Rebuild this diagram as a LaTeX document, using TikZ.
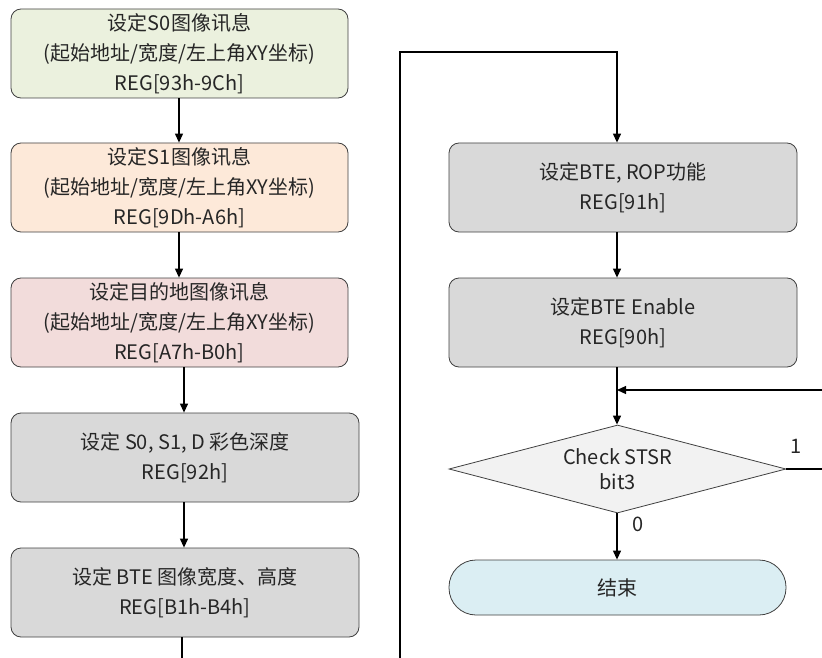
\documentclass[tikz,border=0pt]{standalone}
\usepackage{fontspec}
\setmainfont{Noto Sans CJK SC}
\usetikzlibrary{shapes.geometric,arrows.meta}
\definecolor{bordc}{HTML}{404040}
\definecolor{txtc}{HTML}{262626}
\definecolor{cgreen}{HTML}{EBF1DE}
\definecolor{corange}{HTML}{FDE9D9}
\definecolor{cpink}{HTML}{F2DCDB}
\definecolor{cgray}{HTML}{D9D9D9}
\definecolor{cdia}{HTML}{F2F2F2}
\definecolor{cend}{HTML}{DBEEF3}
\begin{document}
\begin{tikzpicture}[x=1pt,y=-1pt,
  font=\fontsize{20}{30}\selectfont,
  procbox/.style={draw=bordc, line width=0.8pt, rounded corners=10pt, minimum width=337pt, minimum height=89pt, align=center, text=txtc, inner sep=0pt},
  wprocbox/.style={procbox, minimum width=348pt},
  decbox/.style={draw=bordc, line width=0.8pt, diamond, fill=cdia, text=txtc, align=center, inner sep=0pt, minimum width=337pt, minimum height=88pt, aspect=3.8, font=\fontsize{20}{25}\selectfont},
  endbox/.style={draw=bordc, line width=0.8pt, rounded corners=27pt, fill=cend, text=txtc, minimum width=337pt, minimum height=55pt},
  conn/.style={line width=1.2pt, -{Triangle[length=9pt,width=8pt]}},
  plain/.style={line width=1.2pt},
  lbl/.style={text=txtc, inner sep=0pt}]
\useasboundingbox (0,0) rectangle (822,658);
\node[procbox, fill=cgreen] (b1) at (179.5,53.5) {设定S0图像讯息\\(起始地址/宽度/左上角XY坐标)\\REG[93h-9Ch]};
\node[procbox, fill=corange] (b2) at (179.5,187.5) {设定S1图像讯息\\(起始地址/宽度/左上角XY坐标)\\REG[9Dh-A6h]};
\node[procbox, fill=cpink] (b3) at (179.5,322.5) {设定目的地图像讯息\\(起始地址/宽度/左上角XY坐标)\\REG[A7h-B0h]};
\node[wprocbox, fill=cgray] (b4) at (185,457.5) {设定 S0, S1, D 彩色深度\\REG[92h]};
\node[wprocbox, fill=cgray] (b5) at (185,592.5) {设定 BTE 图像宽度、高度\\REG[B1h-B4h]};
\node[wprocbox, fill=cgray] (r1) at (623,187.5) {设定BTE, ROP功能\\REG[91h]};
\node[wprocbox, fill=cgray] (r2) at (623,322.5) {设定BTE Enable\\REG[90h]};
\node[decbox] (d) at (617.5,469) {Check STSR\\bit3};
\node[endbox] (e) at (617.5,587.5) {结束};
\coordinate (b5out) at (182,658);
\coordinate (lb) at (400,658);
\coordinate (lt) at (400,52);
\coordinate (rt) at (617,52);
\coordinate (fbin) at (822,390);
\coordinate (fbj) at (617,390);
\coordinate (dout) at (822,469);
\draw[conn] (b1.south -| 179,0) -- (b2.north -| 179,0);
\draw[conn] (b2.south -| 179,0) -- (b3.north -| 179,0);
\draw[conn] (b3.south -| 184,0) -- (b4.north -| 184,0);
\draw[conn] (b4.south -| 184,0) -- (b5.north -| 184,0);
\draw[plain] (b5.south -| 182,0) -- (b5out);
\draw[conn] (lb) -- (lt) -- (rt) -- (r1.north -| rt);
\draw[conn] (r1.south -| rt) -- (r2.north -| rt);
\draw[conn] (r2.south -| rt) -- (d.north -| rt);
\draw[conn] (fbin) -- (fbj);
\draw[plain] (d.east) -- (dout);
\draw[conn] (d.south -| rt) -- (e.north -| rt);
\node[lbl] (l1) at (796,446) {1};
\node[lbl] (l0) at (638,524) {0};
\end{tikzpicture}
\end{document}
